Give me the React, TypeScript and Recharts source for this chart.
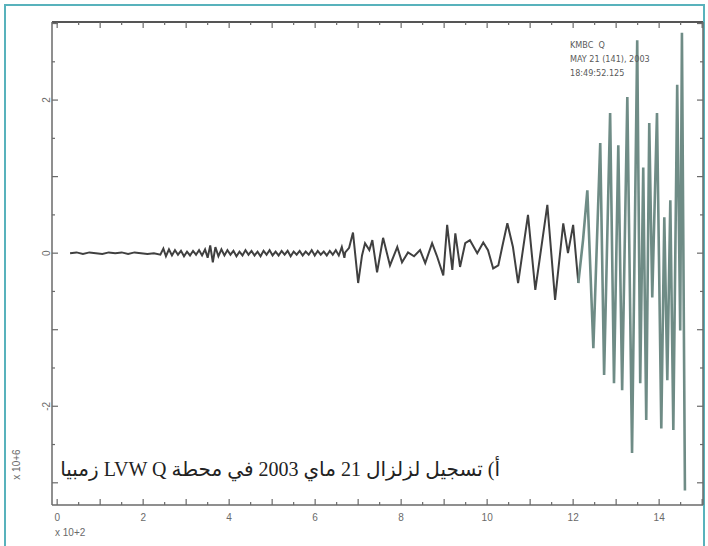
import React from 'react';
import { LineChart, Line, XAxis, YAxis } from 'recharts';

// [time (x10^2 s), amplitude (x10^6)]
const quietSegment: [number, number][] = [
  [0.30, 0.00], [0.45, 0.01], [0.60, -0.01], [0.75, 0.01], [0.90, 0.00], [1.05, -0.01],
  [1.20, 0.01], [1.35, 0.00], [1.50, 0.01], [1.65, -0.01], [1.80, 0.01], [1.95, 0.00],
  [2.10, -0.01], [2.25, 0.00], [2.40, -0.02],
];

const noiseSegment: [number, number][] = [
  [2.47, 0.06], [2.53, -0.04], [2.60, 0.05], [2.67, -0.03], [2.74, 0.04], [2.81, -0.02],
  [2.88, 0.03], [2.95, -0.04], [3.02, 0.02], [3.09, -0.03], [3.16, 0.03], [3.23, -0.02],
  [3.30, 0.04], [3.37, -0.03], [3.44, 0.05], [3.50, -0.06], [3.56, 0.10], [3.62, -0.12],
  [3.68, 0.08], [3.75, -0.04], [3.82, 0.05], [3.89, -0.03], [3.96, 0.04], [4.03, -0.02],
  [4.10, 0.03], [4.17, -0.04], [4.24, 0.02], [4.31, -0.03], [4.38, 0.04], [4.45, -0.02],
  [4.52, 0.03], [4.59, -0.03], [4.66, 0.02], [4.73, -0.04], [4.80, 0.03], [4.87, -0.02],
  [4.94, 0.04], [5.01, -0.03], [5.08, 0.02], [5.15, -0.03], [5.22, 0.03], [5.29, -0.02],
  [5.36, 0.03], [5.43, -0.04], [5.50, 0.02], [5.57, -0.02], [5.64, 0.03], [5.71, -0.03],
  [5.78, 0.02], [5.85, -0.02], [5.92, 0.04], [5.99, -0.03], [6.06, 0.03], [6.13, -0.02],
  [6.20, 0.02], [6.27, -0.03], [6.34, 0.03], [6.41, -0.02], [6.48, 0.04], [6.55, -0.03],
  [6.62, 0.08], [6.68, -0.06],
];

const surfaceSegment: [number, number][] = [
  [6.70, 0.01], [6.79, 0.07], [6.88, 0.27], [7.00, -0.39], [7.09, -0.03], [7.16, 0.13],
  [7.26, 0.04], [7.33, 0.17], [7.44, -0.25], [7.58, 0.20], [7.74, -0.16], [7.91, 0.08],
  [8.02, -0.12], [8.16, 0.01], [8.30, -0.04], [8.44, 0.04], [8.56, -0.13], [8.72, 0.13],
  [8.84, -0.05], [8.98, -0.29], [9.07, 0.37], [9.19, -0.22], [9.26, 0.26], [9.37, -0.18],
  [9.49, 0.13], [9.60, 0.17], [9.77, 0.00], [9.91, 0.14], [10.02, 0.04], [10.14, -0.20],
  [10.26, -0.16], [10.35, 0.08], [10.47, 0.39], [10.60, 0.08], [10.72, -0.39], [10.95, 0.50],
  [11.12, -0.48], [11.40, 0.63], [11.58, -0.61], [11.77, 0.39], [11.88, 0.00], [12.00, 0.37],
  [12.12, -0.39],
];

const peakSegment: [number, number][] = [
  [12.12, -0.39], [12.23, 0.17], [12.33, 0.82], [12.47, -1.24], [12.63, 1.44], [12.72, -1.59],
  [12.86, 1.83], [12.95, -1.70], [13.05, 1.41], [13.14, -1.79], [13.26, 2.04], [13.37, -2.61],
  [13.49, 2.78], [13.56, -1.70], [13.63, 1.12], [13.70, -2.18], [13.77, 1.70], [13.84, -0.58],
  [13.95, 1.83], [14.05, -2.29], [14.12, 0.47], [14.19, -1.66], [14.26, 0.69], [14.33, -2.31],
  [14.42, 2.20], [14.49, -1.01], [14.53, 2.88], [14.60, -3.10],
];

const xTicks = [0, 0.5, 1, 1.5, 2, 2.5, 3, 3.5, 4, 4.5, 5, 5.5, 6, 6.5, 7, 7.5, 8, 8.5, 9, 9.5, 10, 10.5, 11, 11.5, 12, 12.5, 13, 13.5, 14, 14.5, 15];
const xTickLabels = [0, 2, 4, 6, 8, 10, 12, 14];
const yTicks = [-3, -2.5, -2, -1.5, -1, -0.5, 0, 0.5, 1, 1.5, 2, 2.5, 3];
const yTickLabels = [-2, 0, 2];
const xDomain = [-0.12, 15.02];
const yDomain = [-3.29, 3.02];

const stationLines = ['KMBC  Q', 'MAY 21 (141), 2003', '18:49:52.125'];
const caption = 'أ) تسجيل لزلزال 21 ماي 2003 في محطة LVW Q زمبيا';
const xUnitLabel = 'x 10+2';
const yUnitLabel = 'x 10+6';

const data = [
  ...[...quietSegment, ...noiseSegment, ...surfaceSegment].map(([t, a]) => ({ t, early: a, late: null as number | null })),
  ...peakSegment.map(([t, a]) => ({ t, early: null as number | null, late: a })),
];

const AXIS = '#6a6a6a';
const LABEL = '#6a6a6a';
const FONT = '"Liberation Sans", Arial, sans-serif';

const BottomTick = (props: any) => {
  const { x, y, payload } = props;
  const v = payload.value;
  const len = Number.isInteger(v) ? 6 : 3;
  return (
    <g>
      <line x1={x} y1={y} x2={x} y2={y - len} stroke={AXIS} strokeWidth={1.2} />
      {xTickLabels.includes(v) && (
        <text x={x} y={y + 16} textAnchor="middle" fontSize={10} fill={LABEL} fontFamily={FONT}>{v}</text>
      )}
    </g>
  );
};

const TopTick = (props: any) => {
  const { x, y, payload } = props;
  const len = Number.isInteger(payload.value) ? 6 : 3;
  return <line x1={x} y1={y} x2={x} y2={y + len} stroke={AXIS} strokeWidth={1.2} />;
};

const LeftTick = (props: any) => {
  const { x, y, payload } = props;
  const v = payload.value;
  const len = Number.isInteger(v) ? 6 : 3;
  const lx = x - 2;
  return (
    <g>
      <line x1={x} y1={y} x2={x + len} y2={y} stroke={AXIS} strokeWidth={1.2} />
      {yTickLabels.includes(v) && (
        <text x={lx} y={y} transform={`rotate(-90 ${lx} ${y})`} textAnchor="middle" fontSize={10} fill={LABEL} fontFamily={FONT}>{v}</text>
      )}
    </g>
  );
};

const RightTick = (props: any) => {
  const { x, y, payload } = props;
  const len = Number.isInteger(payload.value) ? 6 : 3;
  return <line x1={x} y1={y} x2={x - len} y2={y} stroke={AXIS} strokeWidth={1.2} />;
};

export default function App() {
  return (
    <div style={{ position: 'absolute', left: 0, top: 0, width: 708, height: 546, background: '#fff', overflow: 'hidden' }}>
      <div style={{ position: 'absolute', left: 4, top: 4, width: 697, height: 560, border: '2px solid #58b2bc' }} />
      <LineChart width={708} height={546} data={data} margin={{ top: 0, right: 0, bottom: 0, left: 0 }}>
        <XAxis dataKey="t" type="number" domain={xDomain} allowDataOverflow ticks={xTicks} interval={0}
          tick={<BottomTick />} tickSize={0} tickMargin={0} tickLine={false} height={41}
          axisLine={{ stroke: AXIS, strokeWidth: 1.5 }} />
        <XAxis xAxisId="top" orientation="top" dataKey="t" type="number" domain={xDomain} allowDataOverflow ticks={xTicks} interval={0}
          tick={<TopTick />} tickSize={0} tickMargin={0} tickLine={false} height={22}
          axisLine={{ stroke: '#555', strokeWidth: 2 }} />
        <YAxis type="number" domain={yDomain} allowDataOverflow ticks={yTicks} interval={0}
          tick={<LeftTick />} tickSize={0} tickMargin={0} tickLine={false} width={52}
          axisLine={{ stroke: AXIS, strokeWidth: 1.5 }} />
        <YAxis yAxisId="right" orientation="right" type="number" domain={yDomain} allowDataOverflow ticks={yTicks} interval={0}
          tick={<RightTick />} tickSize={0} tickMargin={0} tickLine={false} width={5}
          axisLine={{ stroke: AXIS, strokeWidth: 1.5 }} />
        <Line dataKey="early" stroke="#404040" strokeWidth={2} dot={false} isAnimationActive={false} />
        <Line dataKey="late" stroke="#6f8c86" strokeWidth={2.6} dot={false} isAnimationActive={false} />
      </LineChart>
      <div style={{ position: 'absolute', left: 570, top: 38, fontFamily: '"Liberation Sans Narrow", "DejaVu Sans Condensed", "Liberation Sans", sans-serif', fontSize: 9, lineHeight: '14px', color: '#5a5a5a', whiteSpace: 'pre' }}>
        {stationLines.map((s) => <div key={s}>{s}</div>)}
      </div>
      <div style={{ position: 'absolute', left: 55, top: 527, fontFamily: FONT, fontSize: 10, color: LABEL, whiteSpace: 'nowrap' }}>{xUnitLabel}</div>
      <div style={{ position: 'absolute', left: 10, top: 459, width: 14, height: 14 }}>
        <div style={{ position: 'absolute', left: -14, top: 0, width: 40, textAlign: 'center', transform: 'rotate(-90deg)', fontFamily: FONT, fontSize: 10, color: LABEL, whiteSpace: 'nowrap' }}>{yUnitLabel}</div>
      </div>
      <div dir="rtl" style={{ position: 'absolute', right: 208, top: 455, fontFamily: '"Liberation Serif", "DejaVu Sans", serif', fontSize: 20, lineHeight: '28px', color: '#222', whiteSpace: 'nowrap' }}>{caption}</div>
    </div>
  );
}
